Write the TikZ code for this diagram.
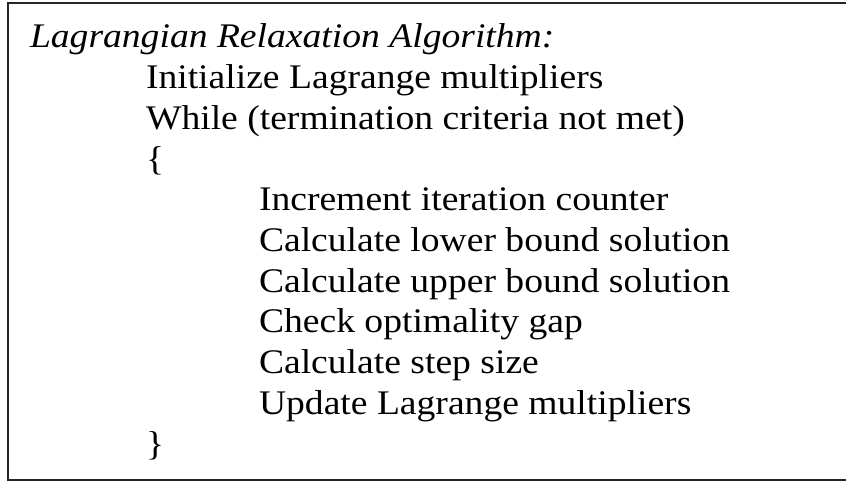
\documentclass[tikz,border=0pt]{standalone}
\usepackage{fontspec}
\setmainfont[FakeStretch=1.09]{Liberation Serif}
\begin{document}
\begin{tikzpicture}[x=1pt,y=-1pt,
  txt/.style={anchor=base west, inner sep=0pt, outer sep=0pt, font=\fontsize{34.5}{41}\selectfont},
  frame/.style={line width=2pt, draw=black!85}]
\useasboundingbox (0,0) rectangle (846,481);
\coordinate (tr) at (850,3);
\coordinate (tl) at (8,3);
\coordinate (bl) at (8,479.5);
\coordinate (br) at (850,479.5);
\draw[frame] (tr) -- (tl) -- (bl) -- (br);
\node[txt] (title) at (30,48) {\itshape Lagrangian Relaxation Algorithm:};
\node[txt] (init) at (146,88.7) {Initialize Lagrange multipliers};
\node[txt] (while) at (146,129.4) {While (termination criteria not met)};
\node[txt] (open) at (146,170.1) {\{};
\node[txt] (inc) at (259,210.8) {Increment iteration counter};
\node[txt] (lb) at (259,251.5) {Calculate lower bound solution};
\node[txt] (ub) at (259,292.2) {Calculate upper bound solution};
\node[txt] (gap) at (259,332.9) {Check optimality gap};
\node[txt] (stepsz) at (259,373.6) {Calculate step size};
\node[txt] (upd) at (259,414.3) {Update Lagrange multipliers};
\node[txt] (close) at (146,455) {\}};
\end{tikzpicture}
\end{document}
